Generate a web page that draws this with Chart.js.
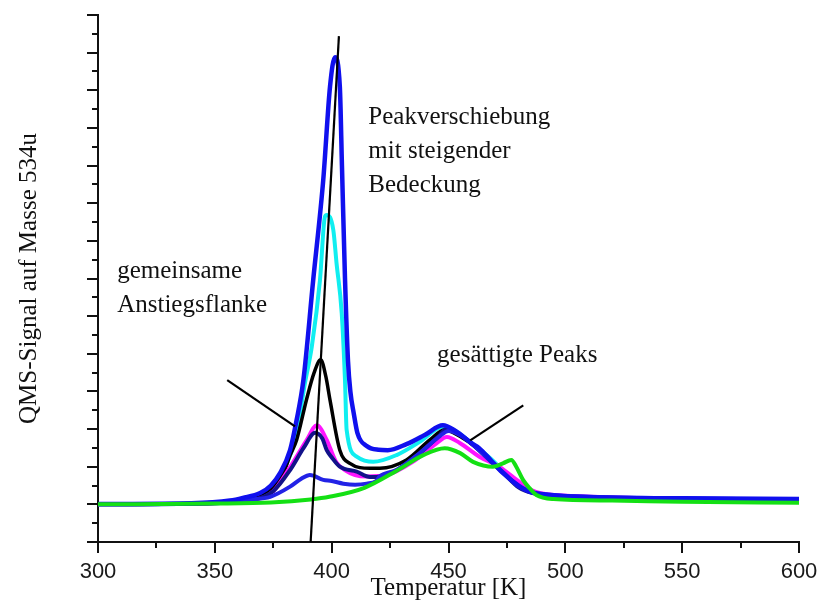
<!DOCTYPE html>
<html>
<head>
<meta charset="utf-8">
<script src="https://cdn.jsdelivr.net/npm/chart.js@4.4.1/dist/chart.umd.min.js"></script>
<style>
    html, body { margin: 0; padding: 0; background: #fff; }
    #wrap { width: 818px; height: 605px; position: relative; }
</style>
</head>
<body>
<div id="wrap"><canvas id="tpdChart"></canvas></div>
<script>
// Temperature / signal readings (arbitrary units, baseline ~0)
const blueT    = [300, 340, 356.5, 362, 369.4, 374, 377.9, 382.2, 385, 387.9, 392.1, 396.4, 399.3, 401.4, 403.5, 404.4, 405.7, 407, 408, 409.5, 411, 415, 420, 424, 432, 440, 447.6, 453, 460, 463, 468, 473, 480, 485, 494, 506, 550, 600];
const blueV    = [0.01, 0.03, 0.1, 0.17, 0.3, 0.5, 0.83, 1.44, 2.24, 3.3, 5.96, 8.62, 11.1, 11.88, 11.09, 9.0, 6.0, 3.8, 3.0, 2.4, 1.9, 1.55, 1.45, 1.44, 1.6, 1.85, 2.1, 1.95, 1.62, 1.5, 1.18, 0.85, 0.5, 0.33, 0.25, 0.2, 0.16, 0.14];

const cyanT    = [300, 350, 360, 370, 378, 382.5, 385.7, 388.5, 391.5, 395, 397.1, 397.9, 400.7, 402.1, 404.3, 405.7, 406.4, 410.7, 417.8, 427.8, 437.7, 447.7, 453, 460, 468, 473, 480, 485, 495, 550, 600];
const cyanV    = [0, 0.03, 0.08, 0.27, 0.78, 1.35, 2.15, 3.2, 4.19, 5.96, 7.64, 7.69, 7.29, 6.4, 5.08, 3.3, 1.98, 1.27, 1.13, 1.31, 1.66, 2.06, 1.95, 1.62, 1.22, 0.92, 0.55, 0.35, 0.22, 0.15, 0.12];

const blackT   = [300, 350, 365, 375, 379.3, 382.2, 385, 389.3, 392.5, 395.3, 397.5, 399.3, 403.5, 407.8, 416.4, 420.6, 432, 442, 448.4, 455, 462, 468, 474, 480, 486, 500, 600];
const blackV   = [0, 0.03, 0.12, 0.45, 0.83, 1.3, 1.71, 2.8, 3.5, 3.84, 3.4, 2.77, 1.44, 1.09, 0.96, 0.96, 1.18, 1.71, 1.98, 1.8, 1.5, 1.15, 0.85, 0.5, 0.33, 0.22, 0.12];

const magentaT = [300, 350, 365, 375, 382.2, 389.3, 393.6, 397.9, 399.3, 402, 406, 410, 415, 423.5, 434.7, 445, 449.3, 454.8, 463.4, 472, 479.2, 484.7, 495, 600];
const magentaV = [0, 0.03, 0.1, 0.35, 0.99, 1.71, 2.1, 1.71, 1.5, 1.12, 0.9, 0.78, 0.74, 0.78, 1.13, 1.63, 1.79, 1.63, 1.26, 0.99, 0.65, 0.4, 0.25, 0.12];

const navyT    = [300, 350, 365, 375, 382.2, 388, 392.9, 396, 397.9, 400, 403.5, 410.7, 416.4, 419.2, 427.8, 437.7, 446.3, 449, 455, 462, 468, 474, 480, 486, 500, 600];
const navyV    = [0, 0.03, 0.1, 0.35, 0.91, 1.5, 1.9, 1.75, 1.44, 1.25, 1.0, 0.87, 0.73, 0.73, 0.91, 1.36, 1.84, 2.0, 1.85, 1.5, 1.15, 0.8, 0.45, 0.3, 0.2, 0.12];

const smallT   = [300, 340, 355, 365, 373.7, 382.2, 387, 390.7, 396.4, 400, 405, 410, 415, 419, 420.5, 428, 437, 446, 450, 456, 462, 468, 474, 480, 486, 500, 600];
const smallV   = [0, 0.02, 0.06, 0.13, 0.2, 0.47, 0.68, 0.78, 0.65, 0.62, 0.55, 0.52, 0.55, 0.62, 0.74, 0.92, 1.33, 1.8, 1.95, 1.8, 1.5, 1.15, 0.82, 0.48, 0.32, 0.22, 0.13];

const greenT   = [300, 350, 374, 391, 399, 414, 428, 439, 448.4, 455, 460.5, 469, 473.3, 476.9, 479, 481.9, 484.7, 487.6, 495, 520, 550, 600];
const greenV   = [0, 0.02, 0.05, 0.13, 0.2, 0.44, 0.9, 1.3, 1.49, 1.36, 1.13, 1.0, 1.09, 1.18, 1.0, 0.65, 0.43, 0.25, 0.14, 0.1, 0.07, 0.04];

// Axis ranges (no y labels in the original)
const xMin = 300, xMax = 600, xStep = 50;
const yMin = -1, yMax = 13;

// Annotation lines in data coordinates [x1, y1, x2, y2]
const shiftLine  = [391, -1, 403.1, 12.44];
const risePtr    = [355.3, 3.3, 384.3, 2.07];
const satPtr     = [482.0, 2.63, 459.3, 1.70];

// Annotation texts: [text, x, y (baseline)]
const notes = [
    ['Peakverschiebung', 415.7, 10.1],
    ['mit steigender', 415.7, 9.2],
    ['Bedeckung', 415.7, 8.3],
    ['gemeinsame', 308.2, 6.01],
    ['Anstiegsflanke', 308.2, 5.11],
    ['gesättigte Peaks', 445.1, 3.77]
];

const toPoints = (xs, ys) => xs.map((x, i) => ({ x: x, y: ys[i] }));

function series(xs, ys, color, width) {
    return {
        data: toPoints(xs, ys),
        borderColor: color,
        borderWidth: width,
        pointRadius: 0,
        fill: false,
        cubicInterpolationMode: 'monotone'
    };
}

// Minor/major tick marks pointing outward, like the original plot
const axisTicks = {
    id: 'axisTicks',
    afterDraw(chart) {
        const ctx = chart.ctx;
        const xs = chart.scales.x, ys = chart.scales.y;
        const left = chart.chartArea.left, bottom = chart.chartArea.bottom;
        ctx.save();
        ctx.strokeStyle = '#111';
        ctx.lineWidth = 2;
        ctx.beginPath();
        for (let v = yMin; v <= yMax + 0.001; v += 0.5) {
            const py = Math.round(ys.getPixelForValue(v));
            const len = Number.isInteger(v) ? 11 : 6;
            ctx.moveTo(left - len, py);
            ctx.lineTo(left, py);
        }
        for (let t = xMin; t <= xMax; t += xStep / 2) {
            const px = Math.round(xs.getPixelForValue(t));
            const len = (t % xStep === 0) ? 11 : 6;
            ctx.moveTo(px, bottom);
            ctx.lineTo(px, bottom + len);
        }
        ctx.stroke();
        ctx.restore();
    }
};

// Hand-drawn guide lines and labels from the figure
const notesPlugin = {
    id: 'notes',
    afterDatasetsDraw(chart) {
        const ctx = chart.ctx;
        const xs = chart.scales.x, ys = chart.scales.y;
        ctx.save();
        ctx.strokeStyle = '#000';
        ctx.lineWidth = 2.2;
        [shiftLine, risePtr, satPtr].forEach(l => {
            ctx.beginPath();
            ctx.moveTo(xs.getPixelForValue(l[0]), ys.getPixelForValue(l[1]));
            ctx.lineTo(xs.getPixelForValue(l[2]), ys.getPixelForValue(l[3]));
            ctx.stroke();
        });
        ctx.fillStyle = '#111';
        ctx.font = '25px "Liberation Serif", "Times New Roman", serif';
        ctx.textAlign = 'left';
        ctx.textBaseline = 'alphabetic';
        notes.forEach(n => {
            ctx.fillText(n[0], xs.getPixelForValue(n[1]), ys.getPixelForValue(n[2]));
        });
        ctx.restore();
    }
};

const ctx = document.getElementById('tpdChart').getContext('2d');

new Chart(ctx, {
    type: 'line',
    data: {
        datasets: [
            // first dataset is drawn on top
            series(greenT, greenV, '#14e014', 4),
            series(blueT, blueV, '#1010ee', 4.5),
            series(smallT, smallV, '#2222e6', 4),
            series(navyT, navyV, '#12128a', 4),
            series(magentaT, magentaV, '#ff14ff', 4),
            series(blackT, blackV, '#000000', 3.5),
            series(cyanT, cyanV, '#10eef0', 4)
        ]
    },
    options: {
        responsive: true,
        maintainAspectRatio: false,
        animation: false,
        events: [],
        layout: { padding: { left: 10, right: 19, top: 15, bottom: 0 } },
        plugins: {
            legend: { display: false },
            tooltip: { enabled: false }
        },
        scales: {
            x: {
                type: 'linear',
                min: xMin,
                max: xMax,
                grid: { display: false, drawTicks: false },
                border: { display: true, color: '#111', width: 2 },
                ticks: {
                    stepSize: xStep,
                    padding: 17,
                    color: '#1a1a1a',
                    font: { family: '"Liberation Sans", Arial, sans-serif', size: 22 }
                },
                title: {
                    display: true,
                    text: 'Temperatur [K]',
                    color: '#111',
                    font: { family: '"Liberation Serif", "Times New Roman", serif', size: 25 },
                    padding: { top: 0, bottom: 2 }
                },
                afterFit: scale => {
                    scale.height = 63;
                    scale.paddingLeft = 0;
                    scale.paddingRight = 0;
                }
            },
            y: {
                min: yMin,
                max: yMax,
                grid: { display: false, drawTicks: false },
                border: { display: true, color: '#111', width: 2 },
                ticks: { display: false, stepSize: 1 },
                title: {
                    display: true,
                    text: 'QMS-Signal auf Masse 534u',
                    color: '#111',
                    font: { family: '"Liberation Serif", "Times New Roman", serif', size: 25 },
                    padding: { top: 4, bottom: 0 }
                },
                afterFit: scale => { scale.width = 88; }
            }
        }
    },
    plugins: [axisTicks, notesPlugin]
});
</script>
</body>
</html>
